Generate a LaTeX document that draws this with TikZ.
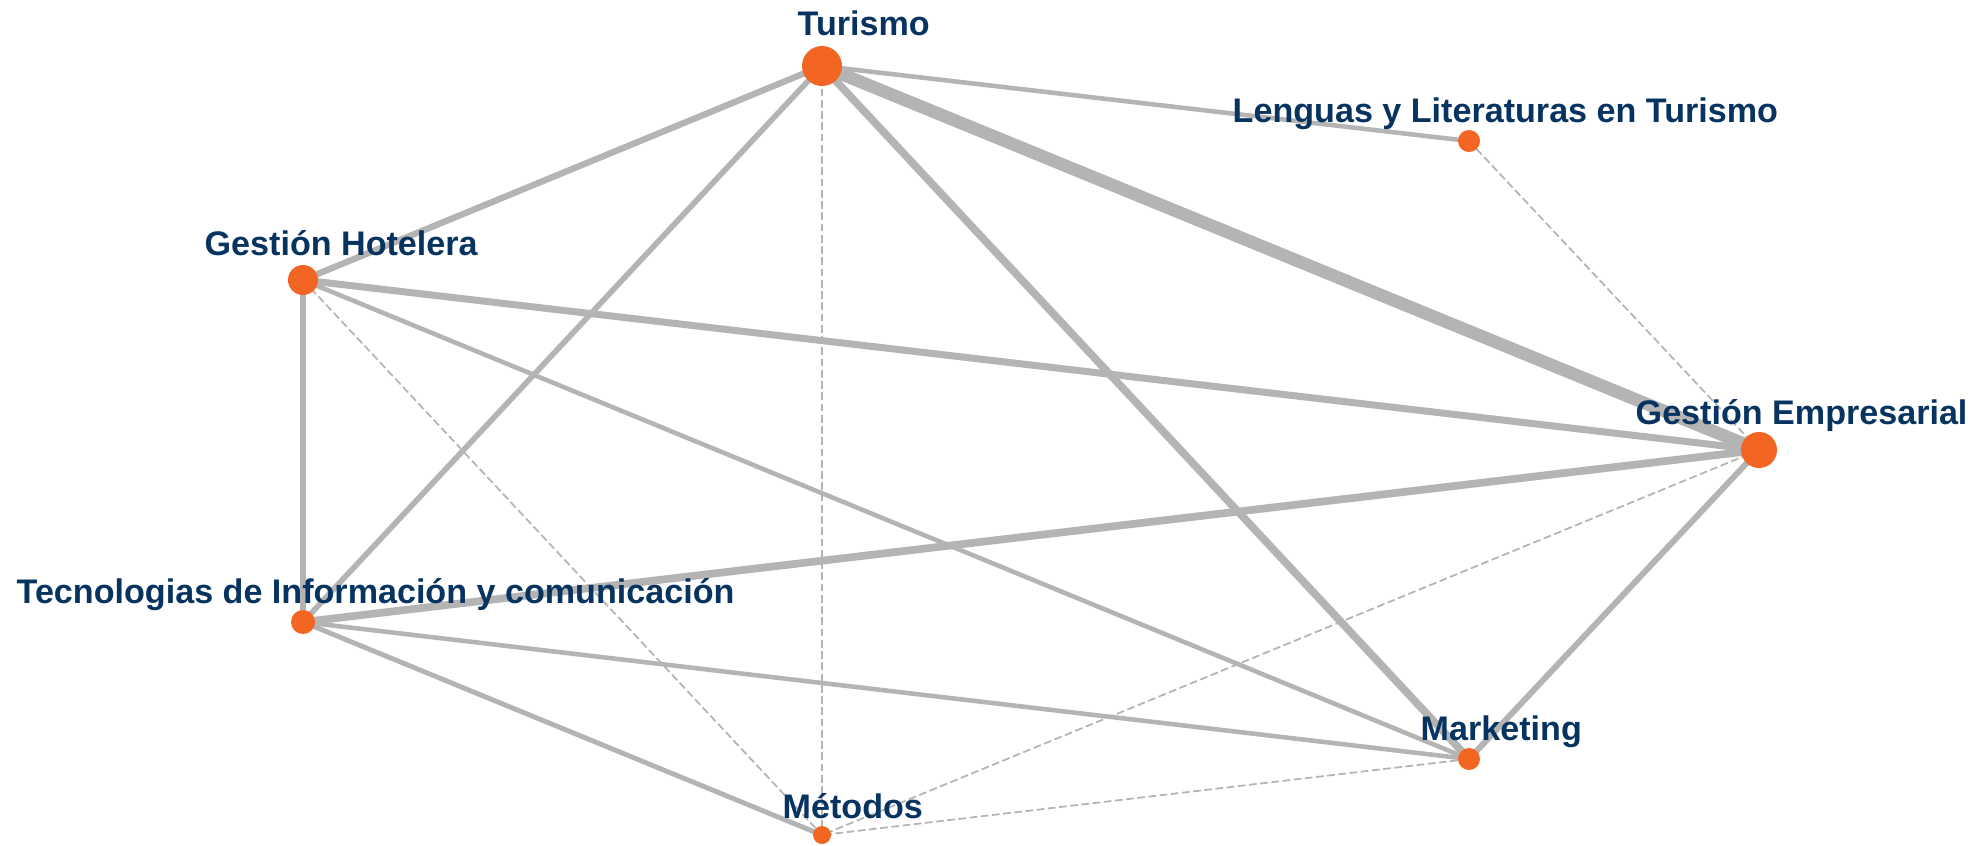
\documentclass[tikz,border=0pt]{standalone}
\usepackage{fontspec}
\setmainfont{Liberation Sans}
\usetikzlibrary{backgrounds}
\definecolor{labelblue}{HTML}{06335F}
\definecolor{dotorange}{HTML}{F26522}
\definecolor{linkgray}{HTML}{B4B4B4}

\begin{document}
\begin{tikzpicture}[x=0.01cm, y=-0.01cm,
  every node/.style={font=\bfseries\fontsize{9.7}{11}\selectfont, text=labelblue},
  dot/.style={circle, fill=dotorange, inner sep=0pt, minimum size=#1},
  lbl/.style={anchor=base west, inner sep=0pt},
  link/.style={draw=linkgray, line width=#1},
  weak/.style={draw=linkgray, line width=0.5pt, dash pattern=on 2.2pt off 1pt}]
  \useasboundingbox (0,0) rectangle (1977,845);
  % dots
  \node[dot=0.40cm] (tur) at (822,66) {};
  \node[dot=0.22cm] (len) at (1469,141) {};
  \node[dot=0.30cm] (hot) at (303,280) {};
  \node[dot=0.36cm] (emp) at (1759,450) {};
  \node[dot=0.24cm] (tic) at (303,622) {};
  \node[dot=0.22cm] (mkt) at (1469,759) {};
  \node[dot=0.18cm] (met) at (822,835) {};
  % labels
  \node[lbl] (turL) at (797,35) {Turismo};
  \node[lbl] (lenL) at (1232,122) {Lenguas y Literaturas en Turismo};
  \node[lbl] (hotL) at (204,255) {Gestión Hotelera};
  \node[lbl] (empL) at (1635,424) {Gestión Empresarial};
  \node[lbl] (ticL) at (16,603) {Tecnologias de Información y comunicación};
  \node[lbl] (mktL) at (1420,740) {Marketing};
  \node[lbl] (metL) at (782,818) {Métodos};
  % links
  \begin{scope}[on background layer]
    \draw[link=3.6pt] (tur.center) -- (emp.center);
    \draw[link=2.2pt] (tur.center) -- (mkt.center);
    \draw[link=1.8pt] (tur.center) -- (hot.center);
    \draw[link=1.6pt] (tur.center) -- (tic.center);
    \draw[link=1.3pt] (tur.center) -- (len.center);
    \draw[weak] (tur.center) -- (met.center);
    \draw[link=2pt] (hot.center) -- (emp.center);
    \draw[link=1.9pt] (hot.center) -- (tic.center);
    \draw[link=1.3pt] (hot.center) -- (mkt.center);
    \draw[weak] (hot.center) -- (met.center);
    \draw[link=2.2pt] (tic.center) -- (emp.center);
    \draw[link=1.3pt] (tic.center) -- (mkt.center);
    \draw[link=1.4pt] (tic.center) -- (met.center);
    \draw[link=1.7pt] (emp.center) -- (mkt.center);
    \draw[weak] (emp.center) -- (len.center);
    \draw[weak] (emp.center) -- (met.center);
    \draw[weak] (mkt.center) -- (met.center);
  \end{scope}
\end{tikzpicture}
\end{document}
